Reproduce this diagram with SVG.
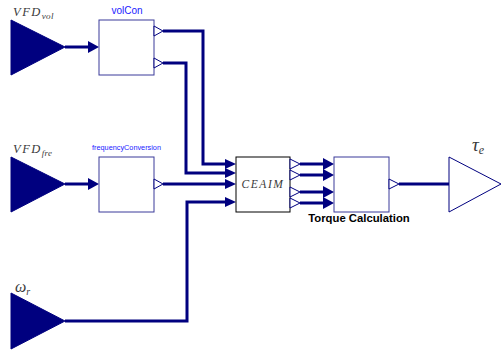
<svg xmlns="http://www.w3.org/2000/svg" width="502" height="350" viewBox="0 0 502 350">
<style>
.blk{fill:#fff;stroke:#3a3a9a;stroke-width:1}
.src{fill:#00007f;stroke:#00007f;stroke-width:1}
.outp{fill:#fff;stroke:#00007f;stroke-width:1}
.w{fill:none;stroke:#00007f;stroke-width:3;stroke-linejoin:miter}
.ah{fill:#00007f}
.nm{font-family:"Liberation Sans",Arial,sans-serif;fill:#1a1aff;text-anchor:middle}
.math{font-family:"Liberation Serif","Times New Roman",serif;font-style:italic;fill:#3a3a3a;font-weight:normal}
</style>
<g id="connectors">
  <polyline class="w" points="65,47 90,47"/>
  <polyline class="w" points="65,184 90,184"/>
  <polyline class="w" points="163,31 203,31 203,164 228,164"/>
  <polyline class="w" points="163,63 186,63 186,173 228,173"/>
  <polyline class="w" points="163,184 228,184"/>
  <polyline class="w" points="65,321 187,321 187,202 228,202"/>
  <polyline class="w" points="300,164 326,164"/>
  <polyline class="w" points="300,175 326,175"/>
  <polyline class="w" points="300,192 326,192"/>
  <polyline class="w" points="300,203 326,203"/>
  <polyline class="w" points="399,184 449,184"/>
  <polygon class="ah" points="88,41 99,47 88,53"/>
  <polygon class="ah" points="88,178 99,184 88,190"/>
  <polygon class="ah" points="225,159 236,164 225,169"/>
  <polygon class="ah" points="225,168 236,173 225,178"/>
  <polygon class="ah" points="225,179 236,184 225,189"/>
  <polygon class="ah" points="225,197 236,202 225,207"/>
  <polygon class="ah" points="323,158 334,164 323,170"/>
  <polygon class="ah" points="323,169 334,175 323,181"/>
  <polygon class="ah" points="323,186 334,192 323,198"/>
  <polygon class="ah" points="323,197 334,203 323,209"/>
</g>
<g id="VFD_vol">
  <polygon class="src" points="11,20 65,47 11,75"/>
  <text class="math" x="13" y="16" font-size="12.5" letter-spacing="1.5">VFD<tspan font-size="9" dy="3" letter-spacing="0.3">vol</tspan></text>
</g>
<g id="VFD_fre">
  <polygon class="src" points="11,157 65,184 11,212"/>
  <text class="math" x="13" y="153" font-size="12.5" letter-spacing="1.5">VFD<tspan font-size="9" dy="3" letter-spacing="0.3">fre</tspan></text>
</g>
<g id="omega_r">
  <polygon class="src" points="11,293 65,321 11,349"/>
  <text class="math" x="15" y="292" font-size="16">ω<tspan font-size="10" dy="3">r</tspan></text>
</g>
<g id="volCon">
  <rect class="blk" x="99" y="20" width="55" height="55"/>
  <polygon class="outp" points="154,26 163,31 154,36"/>
  <polygon class="outp" points="154,58 163,63 154,68"/>
  <text class="nm" x="127" y="14" font-size="10">volCon</text>
</g>
<g id="frequencyConversion">
  <rect class="blk" x="99" y="157" width="55" height="55"/>
  <polygon class="outp" points="154,179 163,184 154,189"/>
  <text class="nm" x="126.5" y="150" font-size="7.3">frequencyConversion</text>
</g>
<g id="CEAIM">
  <rect x="236" y="157" width="54" height="55" fill="#fff" stroke="#000" stroke-width="1"/>
  <polygon class="outp" points="290,159 300,164 290,169"/>
  <polygon class="outp" points="290,170 300,175 290,180"/>
  <polygon class="outp" points="290,187 300,192 290,197"/>
  <polygon class="outp" points="290,198 300,203 290,208"/>
  <text class="math" x="263" y="188" font-size="11.5" letter-spacing="1.6" text-anchor="middle">CEAIM</text>
</g>
<g id="TorqueCalculation">
  <rect class="blk" x="334" y="157" width="55" height="55"/>
  <polygon class="outp" points="389,179 399,184 389,189"/>
  <text x="359" y="222" font-family="Liberation Sans,Arial,sans-serif" font-weight="bold" font-size="11.3" fill="#000" text-anchor="middle">Torque Calculation</text>
</g>
<g id="tau_e">
  <polygon class="outp" points="449,157 501,184 449,212"/>
  <text class="math" x="472" y="151" font-size="19">τ<tspan font-size="12" dy="3">e</tspan></text>
</g>
</svg>
